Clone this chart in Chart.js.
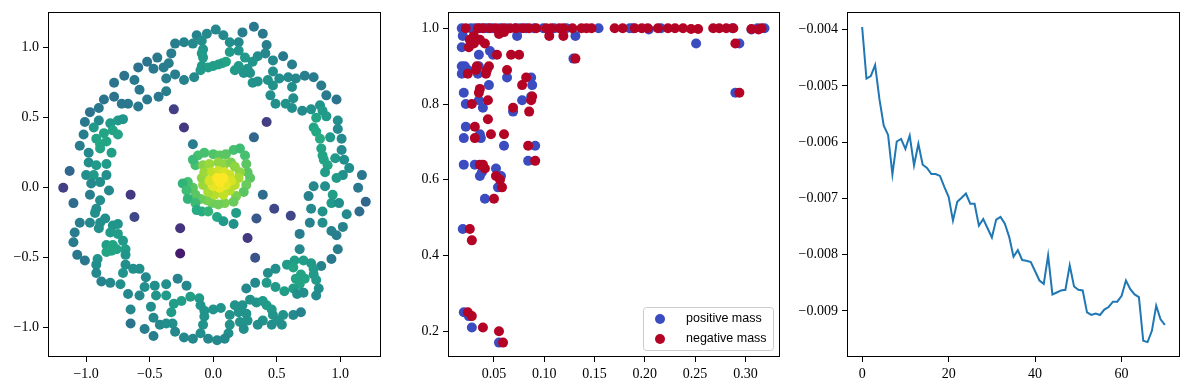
<!DOCTYPE html>
<html>
<head>
<meta charset="utf-8">
<script src="https://cdn.jsdelivr.net/npm/chart.js@4.4.1/dist/chart.umd.min.js"></script>
<style>
  body { margin: 0; background: #fff; }
  #wrap { position: relative; width: 1189px; height: 389px; }
  canvas { position: absolute; top: 0; }
</style>
</head>
<body>
<div id="wrap">
  <canvas id="field" width="396" height="389" style="left:0px"></canvas>
  <canvas id="mass" width="394" height="389" style="left:396px"></canvas>
  <canvas id="energy" width="399" height="389" style="left:790px"></canvas>
</div>
<script>
// ---- panel 1: particle positions [x, y, colour value] ----
var outerRing = [
  [0.32,1.15,.35],[0.02,1.13,.42],[-0.13,1.09,.40],[-0.05,1.10,.42],[0.08,1.09,.42],[0.23,1.11,.38],[0.39,1.10,.35],
  [-0.30,1.03,.38],[-0.23,1.04,.40],[-0.16,1.03,.42],[-0.09,1.05,.45],[0.13,1.04,.45],[0.20,1.04,.42],[0.42,1.02,.38],
  [-0.08,0.99,.48],[-0.09,0.96,.50],[0.13,0.97,.50],[0.20,0.98,.48],[0.35,0.94,.45],[0.41,0.96,.42],[0.55,0.94,.35],
  [-0.44,0.93,.35],[-0.33,0.96,.38],[-0.08,0.93,.50],[0.10,0.90,.55],[0.07,0.89,.55],[0.25,0.93,.50],[0.31,0.90,.48],[0.47,0.91,.42],[0.62,0.88,.38],
  [-0.52,0.90,.33],[-0.35,0.89,.38],[-0.39,0.86,.38],[-0.09,0.87,.50],[-0.04,0.86,.52],[0.00,0.87,.52],[0.04,0.88,.52],[0.20,0.87,.50],[0.27,0.85,.48],
  [-0.59,0.86,.32],[-0.10,0.84,.50],[0.17,0.84,.50],[0.24,0.82,.48],[0.29,0.82,.47],[0.47,0.83,.45],
  [-0.30,0.81,.38],[-0.23,0.77,.40],[-0.15,0.79,.42],[-0.37,0.78,.38],[-0.47,0.85,.35],[-0.70,0.80,.33],[-0.62,0.77,.35],[-0.78,0.75,.33],
  [0.31,0.75,.47],[0.35,0.76,.47],[0.43,0.77,.47],[0.52,0.78,.45],[0.59,0.79,.43],[0.65,0.78,.42],[0.72,0.80,.38],[0.79,0.79,.37],
  [0.47,0.73,.47],[0.62,0.72,.45],[0.85,0.73,.37],[-0.58,0.70,.35],[-0.37,0.69,.38],[0.45,0.66,.45],[0.63,0.64,.45],[0.89,0.66,.36],
  [-0.52,0.63,.35],[-0.43,0.65,.35],[-0.78,0.65,.33],[-0.86,0.63,.33],[0.97,0.63,.33],
  [0.49,0.60,.45],[0.57,0.60,.47],[0.62,0.57,.45],[0.70,0.55,.43],[0.77,0.56,.47],[0.84,0.59,.48],[0.86,0.55,.50],
  [-0.67,0.60,.35],[-0.59,0.58,.35],[-0.72,0.60,.35],[-0.90,0.57,.35],[-0.97,0.54,.33],
  [0.89,0.51,.50],[0.81,0.50,.55],[0.98,0.48,.45],[-1.01,0.47,.35],[-0.90,0.48,.42],[-0.81,0.46,.50],[-0.75,0.48,.50],[-0.71,0.49,.48],
  [0.79,0.43,.55],[0.81,0.40,.57],[0.98,0.42,.43],[-0.94,0.43,.50],[-0.86,0.39,.55],[-0.79,0.41,.55],[-0.75,0.38,.55],[-1.02,0.38,.38],
  [0.84,0.35,.58],[0.92,0.36,.50],[1.01,0.35,.43],[-0.92,0.35,.55],[-0.89,0.31,.57],[-0.84,0.33,.55],[-1.05,0.30,.38],[-0.98,0.25,.42],[-0.89,0.28,.55],[-0.80,0.25,.52],
  [0.85,0.28,.55],[1.01,0.27,.43],[0.86,0.23,.55],[0.87,0.20,.55],[0.96,0.21,.50],[1.03,0.20,.45],
  [-0.98,0.18,.45],[-0.92,0.16,.50],[-0.84,0.17,.50],[0.90,0.16,.55],[1.07,0.14,.45],
  [-1.00,0.09,.45],[-0.94,0.09,.50],[-0.84,0.09,.45],[1.02,0.09,.45],[0.97,0.07,.50],[1.17,0.09,.35],[-1.13,0.12,.28],[0.88,0.11,.52],
  [-0.96,0.03,.42],[-0.89,0.04,.45],[0.79,0.01,.42],[0.88,0.01,.45],[1.14,0.00,.35],[-0.82,-0.02,.42],
  [-0.97,-0.05,.38],[0.94,-0.05,.52],[0.75,-0.06,.40],[1.20,-0.10,.28],[-1.10,-0.11,.30],[-0.89,-0.09,.45],[0.93,-0.11,.50],[0.99,-0.11,.45],
  [-0.92,-0.15,.45],[-0.93,-0.18,.45],[0.77,-0.15,.43],[0.86,-0.17,.47],[1.15,-0.17,.30],[1.05,-0.19,.43],
  [-1.05,-0.25,.38],[-0.97,-0.25,.42],[-0.85,-0.22,.45],[-0.89,-0.25,.45],[0.76,-0.25,.40],[0.86,-0.25,.45],[1.02,-0.28,.40],
  [-1.09,-0.32,.37],[-0.90,-0.29,.45],[-0.79,-0.27,.48],[-0.75,-0.26,.48],[0.68,-0.33,.38],[0.93,-0.31,.40],[0.97,-0.34,.38],
  [-1.10,-0.39,.37],[-0.81,-0.32,.50],[-0.75,-0.33,.52],[-0.71,-0.38,.50],[-0.84,-0.41,.52],[-0.79,-0.41,.55],[-0.80,-0.45,.55],[-0.76,-0.44,.55],[-0.69,-0.44,.52],
  [0.68,-0.44,.42],[0.98,-0.44,.37],[-1.07,-0.48,.35],[-0.91,-0.51,.48],[-0.84,-0.46,.55],[-0.92,-0.55,.45],[-0.69,-0.48,.48],[0.93,-0.51,.35],[-1.01,-0.52,.35],
  [-0.69,-0.55,.45],[-0.63,-0.58,.45],[-0.58,-0.58,.45],[-0.92,-0.61,.42],[-0.71,-0.61,.48],[-0.53,-0.64,.42],
  [0.64,-0.52,.52],[0.71,-0.52,.52],[0.77,-0.54,.50],[0.58,-0.55,.50],[0.49,-0.58,.45],[0.85,-0.56,.40],[0.63,-0.57,.55],[0.79,-0.58,.50],
  [0.69,-0.62,.55],[0.65,-0.65,.55],[0.43,-0.61,.45],[0.79,-0.62,.50],[0.72,-0.65,.55],[0.68,-0.69,.55],[0.63,-0.72,.52],[0.56,-0.74,.52],[0.81,-0.66,.50],[0.83,-0.72,.45],
  [-0.88,-0.67,.40],[-0.81,-0.68,.42],[-0.73,-0.69,.45],[-0.54,-0.71,.45],[-0.46,-0.70,.45],[-0.37,-0.69,.45],[-0.28,-0.65,.40],[-0.21,-0.70,.42],
  [0.33,-0.68,.42],[0.26,-0.72,.42],[0.42,-0.68,.50],[0.49,-0.71,.50],[0.66,-0.76,.45],[0.71,-0.75,.45],[0.81,-0.77,.43],
  [-0.67,-0.76,.42],[-0.58,-0.77,.42],[-0.45,-0.77,.48],[-0.37,-0.77,.50],[-0.31,-0.83,.52],[-0.25,-0.81,.52],[-0.18,-0.78,.52],[-0.11,-0.79,.50],
  [-0.10,-0.84,.48],[-0.07,-0.88,.48],[0.00,-0.87,.48],[0.06,-0.86,.48],[0.17,-0.84,.47],[0.23,-0.84,.47],[0.29,-0.80,.47],[0.34,-0.82,.47],[0.39,-0.81,.50],[0.42,-0.84,.50],[0.46,-0.87,.50],
  [0.47,-0.91,.48],[0.55,-0.91,.47],[0.63,-0.91,.43],[0.69,-0.89,.40],[-0.65,-0.87,.42],[-0.49,-0.85,.45],[-0.33,-0.89,.50],[-0.07,-0.92,.47],[0.13,-0.91,.47],[0.20,-0.89,.47],[0.26,-0.90,.47],[0.39,-0.95,.47],[0.51,-0.95,.47],
  [-0.47,-0.93,.42],[-0.65,-0.97,.33],[-0.42,-0.98,.42],[-0.37,-0.97,.45],[-0.32,-0.97,.45],[-0.08,-0.98,.47],[0.13,-0.98,.47],[0.21,-0.96,.47],[0.27,-0.95,.47],[0.35,-0.98,.45],[0.46,-0.98,.45],[0.54,-0.98,.45],
  [-0.54,-1.01,.38],[-0.30,-1.03,.42],[-0.10,-1.04,.45],[0.12,-1.04,.45],[0.24,-1.01,.45],[-0.47,-1.06,.38],[-0.23,-1.07,.42],[-0.16,-1.08,.42],[-0.04,-1.08,.42],[0.03,-1.09,.42],[0.09,-1.08,.42]
];
var innerScatter = [
  [-0.31,0.56,.12],[-0.23,0.43,.10],[-0.16,0.31,.38],[0.42,0.47,.12],[0.32,0.36,.28],[0.39,-0.05,.30],[0.48,-0.15,.15],[0.61,-0.20,.15],
  [0.34,-0.22,.22],[0.27,-0.36,.10],[0.33,-0.50,.20],[-0.26,-0.29,.08],[-0.26,-0.47,.00],[-1.18,0.00,.12],[-0.65,-0.05,.10],[-0.62,-0.21,.15]
];
var coreCluster = [
  [-0.12,0.23,.68],[-0.07,0.25,.68],[0.00,0.24,.70],[0.05,0.23,.72],[0.10,0.24,.72],[0.16,0.27,.68],[0.21,0.28,.66],[0.25,0.23,.68],
  [0.26,0.17,.72],[0.27,0.11,.72],[0.29,0.07,.72],[0.26,0.02,.75],[0.24,-0.03,.72],[0.18,-0.06,.78],[0.16,-0.10,.75],[0.09,-0.11,.78],
  [0.04,-0.12,.76],[-0.01,-0.11,.76],[-0.05,-0.09,.78],[-0.10,-0.08,.75],[-0.14,-0.05,.72],[-0.16,0.00,.72],[-0.20,0.04,.68],[-0.24,0.03,.62],
  [-0.21,-0.02,.66],[-0.20,-0.08,.62],[-0.14,-0.11,.65],[-0.13,-0.16,.58],[-0.09,-0.17,.58],[-0.04,-0.17,.62],[0.03,-0.21,.57],[0.08,-0.24,.50],
  [0.16,-0.26,.46],[0.18,-0.18,.52],[-0.14,0.16,.68],[-0.16,0.20,.65],
  [-0.08,0.16,.80],[-0.03,0.17,.84],[0.04,0.18,.82],[0.09,0.17,.82],[0.14,0.18,.78],[0.17,0.15,.82],[0.21,0.11,.82],[0.20,0.07,.86],
  [0.17,0.02,.88],[0.13,-0.02,.88],[0.08,-0.05,.90],[0.01,-0.05,.88],[-0.04,-0.03,.86],[-0.08,0.02,.84],[-0.09,0.07,.82],[-0.07,0.11,.84],
  [-0.01,0.11,.90],[0.04,0.12,.92],[0.09,0.11,.94],[0.13,0.09,.92],[0.14,0.05,.94],[0.10,0.02,.96],[0.05,0.00,.98],[0.00,0.01,.96],
  [-0.03,0.05,.94],[0.03,0.07,1.0],[0.08,0.07,1.0],[0.05,0.04,1.0]
];
var fieldXTicks = [-1.0, -0.5, 0.0, 0.5, 1.0];
var fieldXLabels = ['\u22121.0', '\u22120.5', '0.0', '0.5', '1.0'];
var fieldYTicks = [-1.0, -0.5, 0.0, 0.5, 1.0];
var fieldYLabels = ['\u22121.0', '\u22120.5', '0.0', '0.5', '1.0'];
// colour limits for the field values
var colourMin = -0.08, colourMax = 1.0;

// ---- panel 2: [x, y] for each sign of mass ----
var positiveMass = [
  [0.018,1.0],[0.027,1.0],[0.031,1.0],[0.036,1.0],[0.041,1.0],[0.044,1.0],[0.049,1.0],[0.056,1.0],[0.062,1.0],[0.071,1.0],
  [0.076,1.0],[0.082,1.0],[0.090,1.0],[0.099,1.0],[0.110,1.0],[0.122,1.0],[0.154,1.0],[0.185,1.0],[0.188,1.0],[0.204,0.997],
  [0.216,1.0],[0.287,1.0],[0.306,0.997],[0.312,1.0],[0.319,1.0],
  [0.019,0.98],[0.018,0.95],[0.018,0.90],[0.021,0.90],[0.018,0.88],[0.024,0.89],[0.020,0.83],[0.022,0.80],[0.022,0.74],[0.020,0.71],
  [0.020,0.64],[0.019,0.47],[0.020,0.25],[0.025,0.24],[0.028,0.21],[0.055,0.17],[0.031,0.64],[0.035,0.93],[0.035,0.90],[0.034,0.88],
  [0.035,0.81],[0.036,0.72],[0.037,0.71],[0.036,0.61],[0.038,0.62],[0.039,0.79],[0.041,0.55],[0.045,0.85],[0.046,0.94],[0.049,0.93],
  [0.052,0.63],[0.054,0.58],[0.057,0.61],[0.060,0.69],[0.063,0.87],[0.069,0.78],[0.073,0.98],[0.078,0.81],[0.084,0.65],[0.087,0.87],
  [0.088,0.85],[0.087,0.82],[0.091,0.69],[0.131,0.98],[0.129,0.92],[0.251,0.96],[0.294,0.96],[0.290,0.83]
];
var negativeMass = [
  [0.022,1.0],[0.034,1.0],[0.039,1.0],[0.046,1.0],[0.052,1.0],[0.059,1.0],[0.066,1.0],[0.072,1.0],[0.079,1.0],[0.085,1.0],
  [0.092,1.0],[0.102,1.0],[0.107,1.0],[0.115,1.0],[0.119,1.0],[0.128,1.0],[0.137,1.0],[0.142,1.0],[0.147,1.0],[0.170,1.0],
  [0.178,1.0],[0.190,1.0],[0.197,1.0],[0.203,1.0],[0.213,1.0],[0.223,1.0],[0.230,1.0],[0.238,1.0],[0.246,0.998],[0.253,0.998],
  [0.268,1.0],[0.274,1.0],[0.281,1.0],[0.288,1.0],[0.306,0.998],[0.313,0.997],[0.316,1.0],
  [0.026,0.97],[0.025,0.95],[0.024,0.88],[0.030,0.98],[0.030,0.96],[0.036,0.97],[0.041,0.96],[0.033,0.90],[0.032,0.89],[0.043,0.89],
  [0.045,0.90],[0.042,0.88],[0.036,0.84],[0.035,0.83],[0.028,0.80],[0.044,0.81],[0.044,0.76],[0.031,0.74],[0.031,0.71],[0.047,0.72],
  [0.039,0.64],[0.041,0.63],[0.036,0.64],[0.050,0.55],[0.052,0.61],[0.056,0.60],[0.058,0.58],[0.053,0.93],[0.060,0.72],[0.063,0.89],
  [0.069,0.79],[0.067,0.93],[0.075,0.93],[0.078,0.85],[0.082,0.87],[0.087,0.81],[0.085,0.78],[0.088,0.82],[0.084,0.69],[0.091,0.65],
  [0.026,0.47],[0.028,0.44],[0.024,0.25],[0.028,0.24],[0.039,0.21],[0.055,0.20],[0.059,0.17],[0.105,0.98],[0.119,0.98],[0.131,0.92],
  [0.290,0.96],[0.294,0.83],[0.055,0.985],[0.060,0.99]
];
var massXTicks = [0.05, 0.10, 0.15, 0.20, 0.25, 0.30];
var massXLabels = ['0.05', '0.10', '0.15', '0.20', '0.25', '0.30'];
var massYTicks = [0.2, 0.4, 0.6, 0.8, 1.0];
var massYLabels = ['0.2', '0.4', '0.6', '0.8', '1.0'];

// ---- panel 3: one value per step ----
var energy = [
  -0.003953,-0.004871,-0.004824,-0.004629,-0.005235,-0.005706,-0.005871,-0.006571,-0.005988,-0.005941,
  -0.006118,-0.005882,-0.006412,-0.006029,-0.006400,-0.006459,-0.006565,-0.006565,-0.006600,-0.006794,
  -0.006971,-0.007394,-0.007059,-0.006988,-0.006912,-0.007094,-0.007094,-0.007482,-0.007365,-0.007529,
  -0.007694,-0.007376,-0.007329,-0.007447,-0.007682,-0.008035,-0.007918,-0.008094,-0.008106,-0.008129,
  -0.008294,-0.008459,-0.008518,-0.008012,-0.008706,-0.008671,-0.008635,-0.008624,-0.008188,-0.008565,
  -0.008624,-0.008635,-0.009024,-0.009071,-0.009047,-0.009071,-0.008976,-0.008929,-0.008835,-0.008835,
  -0.008729,-0.008459,-0.008612,-0.008706,-0.008753,-0.009529,-0.009553,-0.009353,-0.008906,-0.009147,
  -0.009247
];
var energyXTicks = [0, 20, 40, 60];
var energyXLabels = ['0', '20', '40', '60'];
var energyYTicks = [-0.009, -0.008, -0.007, -0.006, -0.005, -0.004];
var energyYLabels = ['\u22120.009', '\u22120.008', '\u22120.007', '\u22120.006', '\u22120.005', '\u22120.004'];

// viridis colour map
var viridisStops = [[68,1,84],[72,36,117],[65,68,135],[53,95,141],[42,120,142],[33,145,140],
                    [34,168,132],[68,191,112],[122,209,81],[189,223,38],[253,231,37]];
function viridis(v) {
  var t = (v - colourMin) / (colourMax - colourMin);
  t = Math.max(0, Math.min(1, t)) * 10;
  var i = Math.min(9, Math.floor(t)), f = t - i;
  var a = viridisStops[i], b = viridisStops[i + 1];
  return 'rgb(' + [0,1,2].map(function(k){ return Math.round(a[k] + (b[k] - a[k]) * f); }).join(',') + ')';
}

var tickFont = { family: "'Liberation Serif', 'Times New Roman', serif", size: 14 };
var dotRadius = 5;

function makeAxis(min, max, ticks, labels, fit) {
  return {
    type: 'linear', min: min, max: max,
    afterBuildTicks: function(s) { s.ticks = ticks.map(function(v){ return { value: v }; }); },
    afterFit: fit,
    grid: { display: true, drawOnChartArea: false, drawTicks: true, tickLength: 5, color: '#000', lineWidth: 1 },
    border: { display: false },
    ticks: { autoSkip: false, maxRotation: 0, padding: 4, color: '#000', font: tickFont,
             callback: function(v, i) { return labels[i]; } }
  };
}

var framePlugin = {
  id: 'frame',
  afterDraw: function(chart) {
    var a = chart.chartArea, ctx = chart.ctx;
    ctx.save();
    ctx.strokeStyle = '#000';
    ctx.lineWidth = 1;
    ctx.strokeRect(Math.round(a.left) + 0.5, Math.round(a.top) + 0.5,
                   Math.round(a.right - a.left) - 1, Math.round(a.bottom - a.top) - 1);
    ctx.restore();
  }
};

var boxLegend = {
  id: 'boxLegend',
  afterDraw: function(chart) {
    var a = chart.chartArea, ctx = chart.ctx;
    var w = 130, h = 43, x = a.right - 7 - w, y = a.bottom - 7 - h;
    ctx.save();
    ctx.beginPath();
    ctx.roundRect(x + 0.5, y + 0.5, w, h, 3);
    ctx.fillStyle = 'rgba(255,255,255,0.8)';
    ctx.fill();
    ctx.strokeStyle = '#cccccc';
    ctx.lineWidth = 1;
    ctx.stroke();
    ctx.font = "12.5px 'Liberation Sans', sans-serif";
    ctx.textBaseline = 'middle';
    chart.data.datasets.forEach(function(ds, i) {
      var cy = y + 12 + i * 20;
      ctx.beginPath();
      ctx.arc(x + 17, cy, dotRadius, 0, Math.PI * 2);
      ctx.fillStyle = ds.backgroundColor;
      ctx.fill();
      ctx.fillStyle = '#000';
      ctx.fillText(ds.label, x + 43, cy);
    });
    ctx.restore();
  }
};

function baseOptions(scales, padRight) {
  return {
    responsive: false, animation: false,
    layout: { padding: { top: 9, right: padRight, left: 0, bottom: 0 } },
    plugins: { legend: { display: false }, tooltip: { enabled: false } },
    scales: scales
  };
}
function fixH(s) { s.height = 32; }

// panel 1
var fieldPts = outerRing.concat(innerScatter, coreCluster);
new Chart(document.getElementById('field'), {
  type: 'scatter',
  data: { datasets: [{
    data: fieldPts.map(function(p){ return { x: p[0], y: p[1] }; }),
    backgroundColor: fieldPts.map(function(p){ return viridis(p[2]); }),
    borderWidth: 0, pointRadius: dotRadius
  }] },
  options: baseOptions({
    x: makeAxis(-1.30, 1.32, fieldXTicks, fieldXLabels, fixH),
    y: makeAxis(-1.21, 1.253, fieldYTicks, fieldYLabels, function(s){ s.width = 48; })
  }, 15),
  plugins: [framePlugin]
});

// panel 2
new Chart(document.getElementById('mass'), {
  type: 'scatter',
  data: { datasets: [
    { label: 'positive mass', data: positiveMass.map(function(p){ return { x: p[0], y: p[1] }; }),
      backgroundColor: '#3b4cc0', borderWidth: 0, pointRadius: dotRadius, order: 2 },
    { label: 'negative mass', data: negativeMass.map(function(p){ return { x: p[0], y: p[1] }; }),
      backgroundColor: '#b40426', borderWidth: 0, pointRadius: dotRadius, order: 1 }
  ] },
  options: baseOptions({
    x: makeAxis(0.0043, 0.3344, massXTicks, massXLabels, fixH),
    y: makeAxis(0.132, 1.042, massYTicks, massYLabels, function(s){ s.width = 52; })
  }, 10),
  plugins: [framePlugin, boxLegend]
});

// panel 3
new Chart(document.getElementById('energy'), {
  type: 'line',
  data: { datasets: [{
    data: energy.map(function(v, i){ return { x: i, y: v }; }),
    borderColor: '#1f77b4', borderWidth: 2, pointRadius: 0, tension: 0, fill: false
  }] },
  options: baseOptions({
    x: makeAxis(-3.5, 73.5, energyXTicks, energyXLabels, fixH),
    y: makeAxis(-0.009818, -0.003693, energyYTicks, energyYLabels, function(s){ s.width = 57; })
  }, 9),
  plugins: [framePlugin]
});
</script>
</body>
</html>
